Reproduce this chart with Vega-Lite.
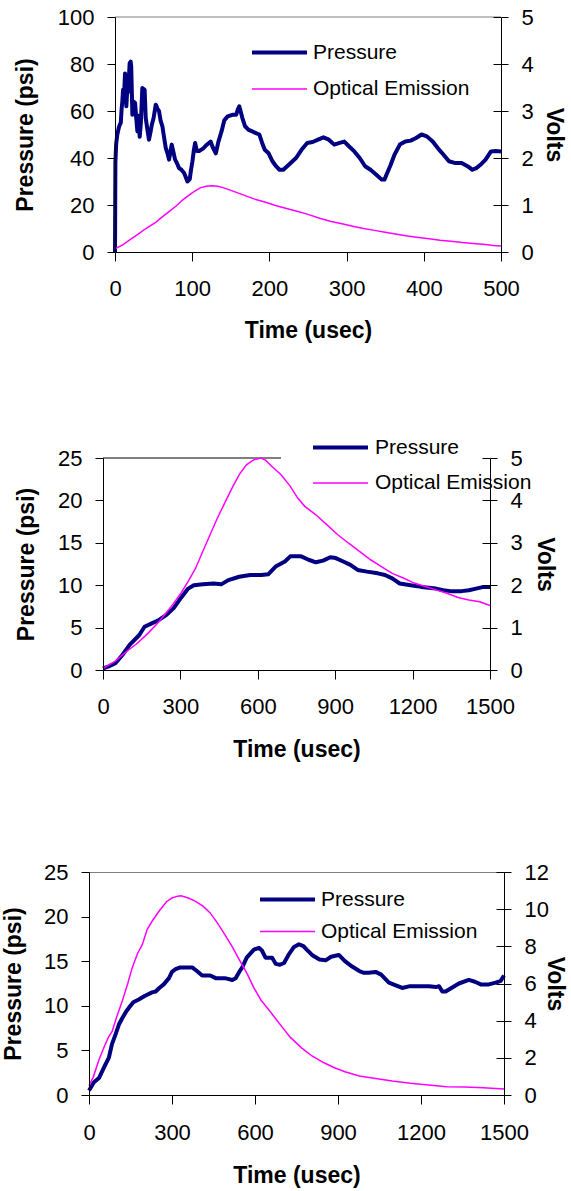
{
  "$schema": "https://vega.github.io/schema/vega-lite/v6.json",
  "background": "white",
  "padding": {"left": 1, "top": 6, "right": 10, "bottom": 0},
  "config": {
    "font": "Liberation Sans",
    "axis": {"labelFont": "Liberation Sans", "labelFontSize": 22, "labelColor": "black", "titleFont": "Liberation Sans", "titleFontSize": 23, "titleFontWeight": "bold", "titleColor": "black", "domainColor": "black", "tickColor": "black", "grid": false, "labelOverlap": false, "labelFlush": false},
    "legend": {"labelFont": "Liberation Sans", "labelFontSize": 21, "labelColor": "black", "symbolType": "stroke", "symbolSize": 3025, "padding": 0, "title": null}
  },
  "datasets": {
    "p1_pressure": [{"t":0,"v":0},{"t":0.5,"v":38},{"t":1.5,"v":46},{"t":3,"v":50},{"t":5,"v":53},{"t":6,"v":54},{"t":7.5,"v":55},{"t":8.6,"v":61},{"t":9.5,"v":64},{"t":10.4,"v":69},{"t":11.5,"v":65},{"t":13,"v":76},{"t":14,"v":66},{"t":14.7,"v":62},{"t":16,"v":70},{"t":17,"v":68},{"t":18,"v":74},{"t":19,"v":80.4},{"t":20.3,"v":81},{"t":21,"v":79},{"t":22.5,"v":58.4},{"t":24,"v":64},{"t":26,"v":63.4},{"t":27.5,"v":57},{"t":29,"v":51.3},{"t":30.5,"v":58},{"t":32,"v":49},{"t":33.5,"v":55},{"t":35.4,"v":69.8},{"t":38.4,"v":69},{"t":39.8,"v":57},{"t":42,"v":52},{"t":44,"v":47.8},{"t":46,"v":51},{"t":47.6,"v":54},{"t":50,"v":57},{"t":52.8,"v":62.7},{"t":55,"v":61},{"t":57,"v":60},{"t":59,"v":56},{"t":61.4,"v":53.5},{"t":63,"v":50},{"t":65.7,"v":44.3},{"t":68,"v":42},{"t":70,"v":39.3},{"t":72,"v":43},{"t":73.5,"v":45.7},{"t":76,"v":42},{"t":77.8,"v":39.3},{"t":80,"v":38},{"t":83,"v":35.7},{"t":86,"v":35},{"t":89.5,"v":33.6},{"t":91.5,"v":32},{"t":93.8,"v":30},{"t":96.8,"v":31},{"t":98.5,"v":35},{"t":100.3,"v":38.6},{"t":102,"v":43},{"t":103.8,"v":46.4},{"t":106,"v":43},{"t":109,"v":43},{"t":114,"v":44},{"t":119,"v":45.7},{"t":122,"v":46.4},{"t":124,"v":47},{"t":126,"v":45},{"t":130.6,"v":42},{"t":134,"v":47},{"t":138,"v":51.3},{"t":141.5,"v":56},{"t":146,"v":57.7},{"t":152,"v":58.4},{"t":157,"v":58.4},{"t":159,"v":60.6},{"t":161,"v":62},{"t":165,"v":57},{"t":168.5,"v":53.5},{"t":173,"v":52},{"t":178,"v":51.3},{"t":182.5,"v":50.6},{"t":187,"v":50},{"t":190.6,"v":46.4},{"t":194,"v":43.5},{"t":199,"v":42},{"t":204,"v":38.6},{"t":208.6,"v":36.5},{"t":213,"v":35},{"t":218,"v":35},{"t":223,"v":36.5},{"t":227.5,"v":37.9},{"t":234.5,"v":40},{"t":241.6,"v":43.5},{"t":249,"v":46.4},{"t":256,"v":46.8},{"t":263,"v":47.8},{"t":270,"v":48.8},{"t":277,"v":47.8},{"t":284,"v":45.7},{"t":291,"v":46.4},{"t":297,"v":47},{"t":303,"v":45},{"t":310,"v":42.8},{"t":317,"v":40},{"t":324,"v":36.5},{"t":331,"v":35},{"t":338.5,"v":32.9},{"t":345.5,"v":30.8},{"t":349,"v":30.8},{"t":352.6,"v":33.6},{"t":357,"v":37},{"t":362,"v":41.4},{"t":369,"v":45.7},{"t":376,"v":47},{"t":383,"v":47.4},{"t":390,"v":48.5},{"t":397,"v":50},{"t":404,"v":49.2},{"t":411.5,"v":47},{"t":418.6,"v":44},{"t":425.6,"v":41.4},{"t":432.6,"v":38.6},{"t":440,"v":37.9},{"t":449,"v":37.9},{"t":456.6,"v":36.5},{"t":463,"v":35},{"t":468,"v":35.7},{"t":473,"v":37},{"t":480,"v":39.3},{"t":487,"v":42.8},{"t":493,"v":43},{"t":500,"v":42.8}],
    "p1_optical": [{"t":0,"v":0.07},{"t":10,"v":0.15},{"t":20,"v":0.27},{"t":30,"v":0.38},{"t":40,"v":0.5},{"t":52.7,"v":0.63},{"t":60,"v":0.73},{"t":70,"v":0.86},{"t":80,"v":0.99},{"t":87,"v":1.1},{"t":95,"v":1.2},{"t":100,"v":1.26},{"t":105,"v":1.31},{"t":111,"v":1.37},{"t":118,"v":1.4},{"t":125,"v":1.41},{"t":133,"v":1.4},{"t":140,"v":1.37},{"t":152,"v":1.3},{"t":165,"v":1.22},{"t":180,"v":1.13},{"t":195,"v":1.06},{"t":208,"v":0.99},{"t":221,"v":0.93},{"t":237,"v":0.86},{"t":250,"v":0.8},{"t":265,"v":0.72},{"t":280,"v":0.65},{"t":294,"v":0.6},{"t":308,"v":0.55},{"t":322,"v":0.5},{"t":336,"v":0.46},{"t":350,"v":0.42},{"t":365,"v":0.38},{"t":379,"v":0.34},{"t":393,"v":0.31},{"t":407,"v":0.28},{"t":421,"v":0.25},{"t":435,"v":0.23},{"t":450,"v":0.2},{"t":464,"v":0.18},{"t":480,"v":0.16},{"t":490,"v":0.14},{"t":500,"v":0.13}],
    "p1_frame": [{"t0":0,"t1":500,"v":100}],
    "p2_pressure": [{"t":0,"v":0.2},{"t":20,"v":0.4},{"t":48,"v":0.8},{"t":76,"v":1.8},{"t":104,"v":3},{"t":140,"v":4.1},{"t":161,"v":5.1},{"t":189,"v":5.5},{"t":217,"v":5.9},{"t":246,"v":6.5},{"t":274,"v":7.3},{"t":302,"v":8.5},{"t":330,"v":9.6},{"t":352,"v":10},{"t":387,"v":10.1},{"t":429,"v":10.2},{"t":458,"v":10.1},{"t":486,"v":10.6},{"t":528,"v":11},{"t":571,"v":11.2},{"t":613,"v":11.2},{"t":641,"v":11.3},{"t":669,"v":12.2},{"t":705,"v":12.8},{"t":726,"v":13.4},{"t":768,"v":13.4},{"t":797,"v":13},{"t":825,"v":12.7},{"t":853,"v":12.9},{"t":881,"v":13.3},{"t":902,"v":13.2},{"t":931,"v":12.8},{"t":959,"v":12.4},{"t":987,"v":11.8},{"t":1023,"v":11.6},{"t":1065,"v":11.4},{"t":1093,"v":11.2},{"t":1121,"v":10.8},{"t":1150,"v":10.2},{"t":1192,"v":10},{"t":1234,"v":9.8},{"t":1291,"v":9.6},{"t":1319,"v":9.4},{"t":1347,"v":9.3},{"t":1390,"v":9.3},{"t":1418,"v":9.4},{"t":1446,"v":9.6},{"t":1475,"v":9.8},{"t":1500,"v":9.8}],
    "p2_optical": [{"t":0,"v":0.04},{"t":48,"v":0.21},{"t":90,"v":0.43},{"t":133,"v":0.63},{"t":175,"v":0.87},{"t":217,"v":1.14},{"t":260,"v":1.46},{"t":302,"v":1.81},{"t":330,"v":2.09},{"t":359,"v":2.4},{"t":387,"v":2.8},{"t":415,"v":3.19},{"t":443,"v":3.58},{"t":472,"v":3.94},{"t":500,"v":4.29},{"t":528,"v":4.61},{"t":556,"v":4.84},{"t":585,"v":4.96},{"t":612,"v":5.0},{"t":630,"v":4.95},{"t":655,"v":4.8},{"t":691,"v":4.6},{"t":726,"v":4.33},{"t":754,"v":4.06},{"t":782,"v":3.86},{"t":825,"v":3.66},{"t":867,"v":3.43},{"t":910,"v":3.19},{"t":952,"v":2.99},{"t":994,"v":2.8},{"t":1037,"v":2.6},{"t":1079,"v":2.44},{"t":1121,"v":2.28},{"t":1164,"v":2.17},{"t":1206,"v":2.05},{"t":1249,"v":1.97},{"t":1291,"v":1.89},{"t":1333,"v":1.81},{"t":1376,"v":1.71},{"t":1418,"v":1.65},{"t":1460,"v":1.61},{"t":1500,"v":1.52}],
    "p2_frame": [{"t0":0,"t1":690,"v":25}],
    "p3_pressure": [{"t":0,"v":0.5},{"t":4,"v":0.7},{"t":17,"v":1.4},{"t":36,"v":1.9},{"t":56,"v":3.2},{"t":72,"v":4.2},{"t":83,"v":5.7},{"t":96,"v":6.8},{"t":108,"v":7.9},{"t":120,"v":8.6},{"t":135,"v":9.4},{"t":145,"v":9.8},{"t":160,"v":10.4},{"t":180,"v":10.7},{"t":201,"v":11.1},{"t":228,"v":11.5},{"t":241,"v":11.6},{"t":254,"v":12},{"t":270,"v":12.4},{"t":289,"v":13.1},{"t":300,"v":13.8},{"t":313,"v":14.1},{"t":330,"v":14.3},{"t":359,"v":14.3},{"t":373,"v":14.3},{"t":390,"v":13.9},{"t":409,"v":13.4},{"t":438,"v":13.4},{"t":458,"v":13.1},{"t":491,"v":13.1},{"t":518,"v":12.9},{"t":530,"v":13.1},{"t":543,"v":13.8},{"t":554,"v":14.3},{"t":570,"v":15.4},{"t":596,"v":16.3},{"t":614,"v":16.5},{"t":625,"v":16.2},{"t":638,"v":15.4},{"t":662,"v":15.4},{"t":675,"v":14.7},{"t":690,"v":14.6},{"t":705,"v":14.8},{"t":721,"v":15.7},{"t":741,"v":16.6},{"t":759,"v":16.9},{"t":775,"v":16.7},{"t":787,"v":16.3},{"t":806,"v":15.7},{"t":833,"v":15.2},{"t":855,"v":15.1},{"t":875,"v":15.5},{"t":903,"v":15.7},{"t":925,"v":15},{"t":951,"v":14.4},{"t":977,"v":13.9},{"t":994,"v":13.7},{"t":1010,"v":13.7},{"t":1036,"v":13.8},{"t":1056,"v":13.5},{"t":1084,"v":12.6},{"t":1109,"v":12.3},{"t":1132,"v":12},{"t":1160,"v":12.2},{"t":1200,"v":12.2},{"t":1229,"v":12.2},{"t":1254,"v":12.1},{"t":1265,"v":12.2},{"t":1277,"v":11.6},{"t":1289,"v":11.6},{"t":1310,"v":12},{"t":1337,"v":12.5},{"t":1373,"v":12.9},{"t":1395,"v":12.7},{"t":1416,"v":12.4},{"t":1445,"v":12.4},{"t":1470,"v":12.6},{"t":1488,"v":12.8},{"t":1500,"v":13.4}],
    "p3_optical": [{"t":0,"v":0.5},{"t":15,"v":0.95},{"t":36,"v":1.9},{"t":55,"v":2.6},{"t":70,"v":3.1},{"t":84,"v":3.44},{"t":100,"v":4.2},{"t":120,"v":5.05},{"t":140,"v":6.0},{"t":156,"v":6.84},{"t":175,"v":7.6},{"t":193,"v":8.1},{"t":210,"v":8.9},{"t":228,"v":9.35},{"t":253,"v":9.89},{"t":280,"v":10.4},{"t":300,"v":10.6},{"t":320,"v":10.7},{"t":333,"v":10.72},{"t":359,"v":10.6},{"t":385,"v":10.42},{"t":412,"v":10.16},{"t":438,"v":9.8},{"t":464,"v":9.26},{"t":491,"v":8.63},{"t":517,"v":8.0},{"t":543,"v":7.29},{"t":570,"v":6.57},{"t":596,"v":5.77},{"t":622,"v":5.1},{"t":649,"v":4.6},{"t":675,"v":4.1},{"t":701,"v":3.6},{"t":728,"v":3.1},{"t":767,"v":2.55},{"t":806,"v":2.1},{"t":846,"v":1.76},{"t":885,"v":1.48},{"t":925,"v":1.25},{"t":977,"v":1.02},{"t":1030,"v":0.9},{"t":1096,"v":0.75},{"t":1162,"v":0.63},{"t":1227,"v":0.54},{"t":1293,"v":0.45},{"t":1359,"v":0.43},{"t":1425,"v":0.39},{"t":1500,"v":0.32}]
  },
  "concat": [
    {
      "width": 412, "height": 235,
      "view": {"stroke": null},
      "resolve": {"scale": {"y": "independent"}},
      "layer": [
        {
          "data": {"name": "p1_frame"},
          "mark": {"type": "rule", "color": "#808080", "strokeWidth": 1},
          "encoding": {
            "x": {"field": "t0", "type": "quantitative", "scale": {"domain": [0, 500], "range": [26, 412], "nice": false, "zero": false}, "axis": {"title": "Time (usec)", "values": [0, 100, 200, 300, 400, 500], "format": "d", "tickSize": 9, "labelPadding": 17, "titlePadding": 20, "zindex": 1}},
            "x2": {"field": "t1"},
            "y": {"field": "v", "type": "quantitative", "scale": {"domain": [0, 100], "nice": false}, "axis": null}
          }
        },
        {
          "data": {"name": "p1_pressure"},
          "mark": {"type": "line", "strokeWidth": 4, "strokeJoin": "round"},
          "encoding": {
            "x": {"field": "t", "type": "quantitative"},
            "y": {"field": "v", "type": "quantitative", "scale": {"domain": [0, 100], "nice": false}, "axis": {"orient": "left", "offset": -26, "title": "Pressure (psi)", "values": [0, 20, 40, 60, 80, 100], "format": "d", "tickSize": 8, "labelPadding": 13, "titlePadding": 20, "zindex": 1}},
            "color": {"datum": "Pressure", "type": "nominal", "scale": {"domain": ["Pressure", "Optical Emission"], "range": ["#000080", "#FF00FF"]}, "legend": {"orient": "none", "legendX": 180, "legendY": 25, "rowPadding": 14.6, "labelOffset": 23, "encode": {"symbols": {"update": {"strokeWidth": {"signal": "datum.value === 'Pressure' ? 4 : 1.5"}}}}}}
          }
        },
        {
          "data": {"name": "p1_optical"},
          "mark": {"type": "line", "strokeWidth": 1.5},
          "encoding": {
            "x": {"field": "t", "type": "quantitative"},
            "y": {"field": "v", "type": "quantitative", "scale": {"domain": [0, 5], "nice": false}, "axis": {"orient": "right", "title": "Volts", "values": [0, 1, 2, 3, 4, 5], "tickSize": 7, "labelPadding": 13, "titlePadding": 8.5, "zindex": 1}},
            "color": {"datum": "Optical Emission", "type": "nominal"}
          }
        },
        {
          "data": {"name": "p1_optical"},
          "mark": {"type": "line", "opacity": 0},
          "encoding": {
            "x": {"field": "t", "type": "quantitative"},
            "y": {"field": "v", "type": "quantitative", "scale": {"domain": [0, 5], "nice": false}, "axis": {"orient": "right", "title": null, "labels": false, "domain": false, "values": [0, 1, 2, 3, 4, 5], "tickSize": -8, "zindex": 1}}
          }
        }
      ]
    },
    {
      "concat": [
        {
          "width": 401, "height": 212,
          "view": {"stroke": null},
          "resolve": {"scale": {"y": "independent"}},
          "layer": [
            {
              "data": {"name": "p2_frame"},
              "mark": {"type": "rule", "color": "black", "strokeWidth": 1},
              "encoding": {
                "x": {"field": "t0", "type": "quantitative", "scale": {"domain": [0, 1500], "range": [14, 401], "nice": false, "zero": false}, "axis": {"title": "Time (usec)", "values": [0, 300, 600, 900, 1200, 1500], "format": "d", "tickSize": 9, "labelPadding": 17, "titlePadding": 21, "zindex": 1}},
                "x2": {"field": "t1"},
                "y": {"field": "v", "type": "quantitative", "scale": {"domain": [0, 25], "nice": false}, "axis": null}
              }
            },
            {
              "data": {"name": "p2_pressure"},
              "mark": {"type": "line", "strokeWidth": 4, "strokeJoin": "round"},
              "encoding": {
                "x": {"field": "t", "type": "quantitative"},
                "y": {"field": "v", "type": "quantitative", "scale": {"domain": [0, 25], "nice": false}, "axis": {"orient": "left", "offset": -14, "title": "Pressure (psi)", "values": [0, 5, 10, 15, 20, 25], "tickSize": 8, "labelPadding": 13, "titlePadding": 19, "zindex": 1}},
                "color": {"datum": "Pressure", "type": "nominal", "scale": {"domain": ["Pressure", "Optical Emission"], "range": ["#000080", "#FF00FF"]}, "legend": {"orient": "none", "legendX": 241, "legendY": -21, "rowPadding": 13.5, "labelOffset": 24, "encode": {"symbols": {"update": {"strokeWidth": {"signal": "datum.value === 'Pressure' ? 4 : 1.5"}}}}}}
              }
            },
            {
              "data": {"name": "p2_optical"},
              "mark": {"type": "line", "strokeWidth": 1.5},
              "encoding": {
                "x": {"field": "t", "type": "quantitative"},
                "y": {"field": "v", "type": "quantitative", "scale": {"domain": [0, 5], "nice": false}, "axis": {"orient": "right", "title": "Volts", "values": [0, 1, 2, 3, 4, 5], "tickSize": 7, "labelPadding": 13, "titlePadding": 10, "zindex": 1}},
                "color": {"datum": "Optical Emission", "type": "nominal"}
              }
            },
            {
              "data": {"name": "p2_optical"},
              "mark": {"type": "line", "opacity": 0},
              "encoding": {
                "x": {"field": "t", "type": "quantitative"},
                "y": {"field": "v", "type": "quantitative", "scale": {"domain": [0, 5], "nice": false}, "axis": {"orient": "right", "title": null, "labels": false, "domain": false, "values": [0, 1, 2, 3, 4, 5], "tickSize": -8, "zindex": 1}}
              }
            }
          ]
        },
        {
          "width": 415, "height": 223,
          "view": {"stroke": "#808080", "strokeWidth": 1},
          "resolve": {"scale": {"y": "independent"}},
          "layer": [
            {
              "data": {"name": "p3_pressure"},
              "mark": {"type": "line", "strokeWidth": 4, "strokeJoin": "round"},
              "encoding": {
                "x": {"field": "t", "type": "quantitative", "scale": {"domain": [0, 1500], "nice": false, "zero": false}, "axis": {"title": "Time (usec)", "values": [0, 300, 600, 900, 1200, 1500], "format": "d", "tickSize": 9, "labelPadding": 18, "titlePadding": 21, "zindex": 1}},
                "y": {"field": "v", "type": "quantitative", "scale": {"domain": [0, 25], "nice": false}, "axis": {"orient": "left", "title": "Pressure (psi)", "values": [0, 5, 10, 15, 20, 25], "tickSize": 8, "labelPadding": 13, "titlePadding": 18.5, "zindex": 1}},
                "color": {"datum": "Pressure", "type": "nominal", "scale": {"domain": ["Pressure", "Optical Emission"], "range": ["#000080", "#FF00FF"]}, "legend": {"orient": "none", "legendX": 188, "legendY": 17, "rowPadding": 10, "labelOffset": 23, "encode": {"symbols": {"update": {"strokeWidth": {"signal": "datum.value === 'Pressure' ? 4 : 1.5"}}}}}}
              }
            },
            {
              "data": {"name": "p3_optical"},
              "mark": {"type": "line", "strokeWidth": 1.5},
              "encoding": {
                "x": {"field": "t", "type": "quantitative"},
                "y": {"field": "v", "type": "quantitative", "scale": {"domain": [0, 12], "nice": false}, "axis": {"orient": "right", "title": "Volts", "values": [0, 2, 4, 6, 8, 10, 12], "tickSize": 7, "labelPadding": 13, "titlePadding": -6, "zindex": 1}},
                "color": {"datum": "Optical Emission", "type": "nominal"}
              }
            },
            {
              "data": {"name": "p3_optical"},
              "mark": {"type": "line", "opacity": 0},
              "encoding": {
                "x": {"field": "t", "type": "quantitative"},
                "y": {"field": "v", "type": "quantitative", "scale": {"domain": [0, 12], "nice": false}, "axis": {"orient": "right", "title": null, "labels": false, "domain": false, "values": [0, 2, 4, 6, 8, 10, 12], "tickSize": -8, "zindex": 1}}
              }
            }
          ]
        }
      ],
      "columns": 1,
      "spacing": 202,
      "bounds": "flush",
      "resolve": {"scale": {"color": "independent"}, "legend": {"color": "independent"}}
    }
  ],
  "columns": 1,
  "spacing": 206,
  "bounds": "flush",
  "resolve": {"scale": {"color": "independent"}, "legend": {"color": "independent"}}
}
